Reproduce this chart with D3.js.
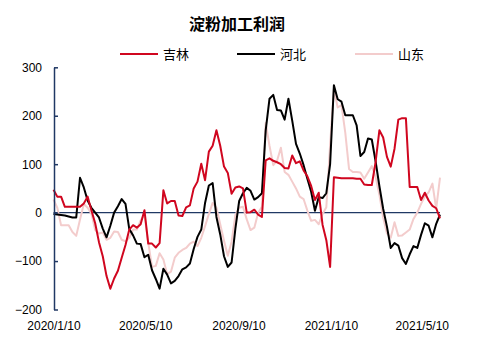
<!DOCTYPE html>
<html>
<head>
<meta charset="utf-8">
<script src="https://cdn.jsdelivr.net/npm/d3@7"></script>
<style>
  html, body { margin: 0; padding: 0; background: #fff; }
  svg { display: block; }
  text { font-family: "Liberation Sans", Arial, "Noto Sans CJK SC", sans-serif; }
</style>
</head>
<body>
<svg id="chart" width="478" height="340"></svg>
<script>
// Starch processing profit (元/吨), sampled every 5 days from 2020/1/10
const startDate = new Date(2020, 0, 10);
const stepDays = 5;

const jilin = [
  47, 33, 33, 12, 12, 12, 12, 12, 19, 33,
  5, -22, -61, -90, -131, -157, -136, -120, -93, -67,
  -35, -26, -31, -24, 5, -64, -64, -72, -63, 46,
  19, 24, 24, -6, -7, 11, 15, 50, 64, 101,
  67, 126, 138, 170, 138, 95, 82, 39, 52, 54,
  50, 0, 1, 6, -4, -9, 108, 112, 107, 104,
  100, 92, 91, 118, 102, 106, 87, 75, 55, 26,
  41, -25, -57, -112, 73, 72, 71, 71, 71, 71,
  70, 70, 58, 57, 57, 104, 170, 155, 115, 95,
  132, 192, 195, 195, 53, 53, 53, 26, 41, 25,
  14, 9, -12
];

const hebei = [
  -3, -4, -5, -6, -8, -10, -10, 72, 52, 25,
  10, 0, -10, -33, -51, -27, 0, 13, 28, 18,
  -34, -47, -64, -65, -92, -87, -119, -137, -157, -116,
  -128, -146, -141, -131, -117, -113, -105, -75, -50, -35,
  20, 56, 61, -9, -45, -90, -112, -103, -33, 24,
  40, 51, 45, 27, 32, 40, 170, 235, 243, 212,
  211, 192, 235, 190, 142, 122, 98, 70, 43, 4,
  32, 30, 40, 100, 263, 234, 229, 201, 201, 201,
  180, 117, 125, 153, 151, 106, 55, 8, -29, -73,
  -63, -68, -94, -106, -86, -69, -73, -46, -22, -27,
  -51, -23, -4
];

const shandong = [
  27, 10, -26, -26, -26, -40, -48, -14, 18, 10,
  -2, -36, -43, -41, -56, -52, -39, -40, -56, -59,
  -52, -35, -35, -16, -4, -62, -112, -110, -84, -97,
  -127, -122, -93, -83, -77, -73, -64, -60, -69, -52,
  -28, -3, 20, 10, -24, -58, -89, -60, -5, 10,
  12, -14, -36, -31, -1, 12, 185, 138, 98, 107,
  134, 84, 78, 64, 50, 33, 28, 4, -17, -15,
  -24, -3, 11, 140, 255, 217, 222, 165, 90, 84,
  84, 83, 70, 83, 96, 74, 37, -10, -43, -52,
  -20, -48, -47, -41, -35, -13, 0, 18, 33, 42,
  60, 8, 72
];

const dates = jilin.map((_, i) => d3.timeDay.offset(startDate, i * stepDays));

const seriesNames = ["吉林", "河北", "山东"];
const seriesColors = ["#d0061f", "#000000", "#f3cccc"];
const seriesValues = [jilin, hebei, shandong];

const yTicks = [-200, -100, 0, 100, 200, 300];
const xTickLabels = ["2020/1/10", "2020/5/10", "2020/9/10", "2021/1/10", "2021/5/10"];
const xTickDates = xTickLabels.map(s => d3.timeParse("%Y/%m/%d")(s));

const svg = d3.select("#chart");
const axisColor = "#203864";

const x = d3.scaleTime()
  .domain([dates[0], dates[dates.length - 1]])
  .range([53.5, 440]);

const y = d3.scaleLinear()
  .domain([-200, 300])
  .range([309.5, 67.3]);

// Title
svg.append("text")
  .attr("x", 237)
  .attr("y", 30)
  .attr("text-anchor", "middle")
  .attr("font-size", 16)
  .attr("font-weight", "bold")
  .attr("font-family", "'Noto Sans CJK SC', sans-serif")
  .text("淀粉加工利润");

// Legend
const legendX = [120, 237, 355];
const legend = svg.append("g");
seriesNames.forEach((name, i) => {
  const g = legend.append("g").attr("transform", `translate(${legendX[i]},54)`);
  g.append("line")
    .attr("x1", 0).attr("x2", 38)
    .attr("y1", 0).attr("y2", 0)
    .attr("stroke", seriesColors[i])
    .attr("stroke-width", 2);
  g.append("text")
    .attr("x", 43)
    .attr("y", 5)
    .attr("font-size", 13)
    .attr("font-family", "'Noto Sans CJK SC', sans-serif")
    .text(name);
});

// Zero line
svg.append("line")
  .attr("x1", x.range()[0]).attr("x2", x.range()[1])
  .attr("y1", y(0)).attr("y2", y(0))
  .attr("stroke", axisColor)
  .attr("stroke-width", 1.2);

// Series lines (山东 underneath, 吉林 on top)
const line = d3.line()
  .x((d, i) => x(dates[i]))
  .y(d => y(d));

[2, 1, 0].forEach(k => {
  svg.append("path")
    .datum(seriesValues[k])
    .attr("fill", "none")
    .attr("stroke", seriesColors[k])
    .attr("stroke-width", 2)
    .attr("stroke-linejoin", "round")
    .attr("d", line);
});

// Y axis with inward ticks
const yAxis = svg.append("g")
  .attr("transform", "translate(54,0)")
  .call(d3.axisLeft(y)
    .tickValues(yTicks)
    .tickSizeInner(-4)
    .tickSizeOuter(0)
    .tickPadding(12));
yAxis.select(".domain").attr("stroke", axisColor).attr("stroke-width", 1.5);
yAxis.selectAll(".tick line").attr("stroke", axisColor).attr("stroke-width", 1.5);
yAxis.selectAll(".tick text")
  .attr("font-size", 12)
  .attr("fill", "#000")
  .attr("font-family", "'Liberation Sans', Arial, sans-serif");

// X axis labels
const xAxis = svg.append("g")
  .attr("transform", "translate(0,318)")
  .call(d3.axisBottom(x)
    .tickValues(xTickDates)
    .tickFormat((d, i) => xTickLabels[i])
    .tickSize(0)
    .tickPadding(3));
xAxis.select(".domain").remove();
xAxis.selectAll(".tick text")
  .attr("font-size", 12)
  .attr("fill", "#000")
  .attr("font-family", "'Liberation Sans', Arial, sans-serif");
</script>
</body>
</html>
